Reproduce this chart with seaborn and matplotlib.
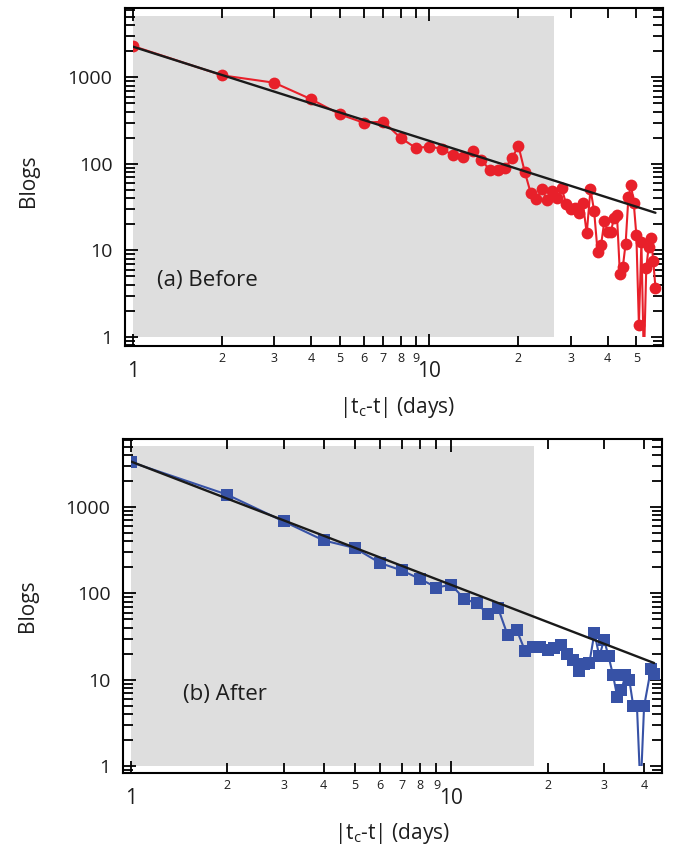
import numpy as np
import pandas as pd
import matplotlib
matplotlib.use("Agg")
import matplotlib.pyplot as plt
import seaborn as sns
from matplotlib.ticker import FixedLocator, FixedFormatter, LogLocator, NullFormatter
from matplotlib.patches import Rectangle

# ---------------- data ----------------
before_days = list(range(1, 59))
before_blogs = [2300, 1055, 866, 557, 373, 299, 307, 200, 153, 158,
                150, 126, 120, 142, 111, 85, 85, 89, 116, 161,
                81, 46, 39, 51, 38, 48.5, 40, 52, 34, 30,
                30.6, 27, 35, 15.7, 51, 28.7, 9.6, 11.5, 22, 16.4,
                16.4, 23.4, 25.6, 5.3, 6.4, 12, 41, 57, 35, 15,
                1.37, 12.6, 0.5, 6.2, 11, 14, 7.6, 3.7]

after_days = list(range(1, 39)) + [39, 40, 42, 43]
after_blogs = [3330, 1393, 683, 411, 336, 225, 185, 147, 117, 126,
               86, 77, 58, 68, 33, 38, 21.7, 24, 24, 22.3,
               23.3, 25.5, 20, 17, 12.5, 15.3, 15.6, 35, 18.6, 29,
               18.6, 11.3, 6.3, 7.6, 11.4, 9.8, 5.0, 5.0,
               0.5, 4.9, 13.2, 11.6]

before_fit_days = [1, 58]
before_fit_blogs = [2260, 27.2]
after_fit_days = [1, 43]
after_fit_blogs = [3380, 15.6]

before_window_days = [1, 26.3]
after_window_days = [1, 18.2]
window_blogs = [1, 5100]

panel_labels = ["(a) Before", "(b) After"]
y_major_ticks = [1, 10, 100, 1000]
y_major_labels = ["1", "10", "100", "1000"]
x_major_ticks = [1, 10]
x_major_labels = ["1", "10"]
before_x_minor_ticks = [2, 3, 4, 5, 6, 7, 8, 9, 20, 30, 40, 50]
before_x_minor_labels = ["2", "3", "4", "5", "6", "7", "8", "9", "2", "3", "4", "5"]
after_x_minor_ticks = [2, 3, 4, 5, 6, 7, 8, 9, 20, 30, 40]
after_x_minor_labels = ["2", "3", "4", "5", "6", "7", "8", "9", "2", "3", "4"]

# ---------------- style ----------------
sns.set_theme(style="ticks")
plt.rcParams["font.family"] = ["Open Sans", "DejaVu Sans"]
plt.rcParams["axes.linewidth"] = 1.5

RED = "#e8202a"
BLUE = "#3752a6"
GRAY = "#dedede"
TXT = "#1e1e1e"

W, H = 674, 850
fig = plt.figure(figsize=(W / 100, H / 100), dpi=100)
ax1 = fig.add_axes([125 / W, 1 - 346 / H, 538 / W, 338 / H])
ax2 = fig.add_axes([123 / W, 1 - 773 / H, 539 / W, 334 / H])


def panel(ax, days, blogs, fitd, fitb, win, color, marker, ms, label, label_xy,
          xlim, ylim, xminor, xminor_labels):
    ax.set_xscale("log")
    ax.set_yscale("log")
    ax.set_xlim(*xlim)
    ax.set_ylim(*ylim)
    ax.fill_between(win, window_blogs[0], window_blogs[1], color=GRAY, lw=0, zorder=0)
    df = pd.DataFrame({"days": days, "blogs": blogs})
    sns.lineplot(data=df, x="days", y="blogs", ax=ax, color=color, marker=marker,
                 markersize=ms, markeredgewidth=0, linewidth=1.5,
                 estimator=None, sort=False, zorder=3)
    fdf = pd.DataFrame({"days": fitd, "blogs": fitb})
    sns.lineplot(data=fdf, x="days", y="blogs", ax=ax, color="#1a1a1a",
                 linewidth=1.7, estimator=None, sort=False, zorder=4)
    clip = Rectangle((1, 1), 1e4, 1e6, transform=ax.transData)
    for ln in ax.lines:
        ln.set_clip_path(clip)
    ax.set_xlim(*xlim)
    ax.set_ylim(*ylim)

    ax.xaxis.set_major_locator(FixedLocator(x_major_ticks))
    ax.xaxis.set_major_formatter(FixedFormatter(x_major_labels))
    ax.xaxis.set_minor_locator(FixedLocator(xminor))
    ax.xaxis.set_minor_formatter(FixedFormatter(xminor_labels))
    ax.yaxis.set_major_locator(FixedLocator(y_major_ticks))
    ax.yaxis.set_major_formatter(FixedFormatter(y_major_labels))
    ax.yaxis.set_minor_locator(LogLocator(base=10, subs=range(2, 10), numticks=20))
    ax.yaxis.set_minor_formatter(NullFormatter())

    ax.tick_params(which="both", direction="in", top=True, right=True,
                   color="black", width=1.3, labelcolor=TXT)
    ax.tick_params(axis="x", which="major", length=9, pad=11, labelsize=15)
    ax.tick_params(axis="x", which="minor", length=7, pad=4, labelsize=9)
    ax.tick_params(axis="y", which="major", length=9, pad=9, labelsize=14)
    ax.tick_params(axis="y", which="minor", length=7)
    for s in ax.spines.values():
        s.set_color("black")
        s.set_linewidth(1.5)

    ax.set_xlabel(r"|t$_{\mathregular{c}}$-t| (days)", fontsize=15, color=TXT)
    ax.set_ylabel("Blogs", fontsize=15, color=TXT)
    ax.text(label_xy[0], label_xy[1], label, transform=ax.transAxes,
            fontsize=16, ha="center", va="center", color=TXT)


panel(ax1, before_days, before_blogs, before_fit_days, before_fit_blogs,
      before_window_days, RED, "o", 8.5, panel_labels[0], (0.154, 0.195),
      (0.94, 61.5), (0.785, 6330), before_x_minor_ticks, before_x_minor_labels)
panel(ax2, after_days, after_blogs, after_fit_days, after_fit_blogs,
      after_window_days, BLUE, "s", 8.0, panel_labels[1], (0.189, 0.234),
      (0.946, 45.5), (0.83, 6150), after_x_minor_ticks, after_x_minor_labels)

ax1.xaxis.set_label_coords(0.506, -0.145)
ax2.xaxis.set_label_coords(0.500, -0.144)
ax1.yaxis.set_label_coords(-0.160, 0.49)
ax2.yaxis.set_label_coords(-0.157, 0.50)

fig.savefig("out.png", dpi=100)
